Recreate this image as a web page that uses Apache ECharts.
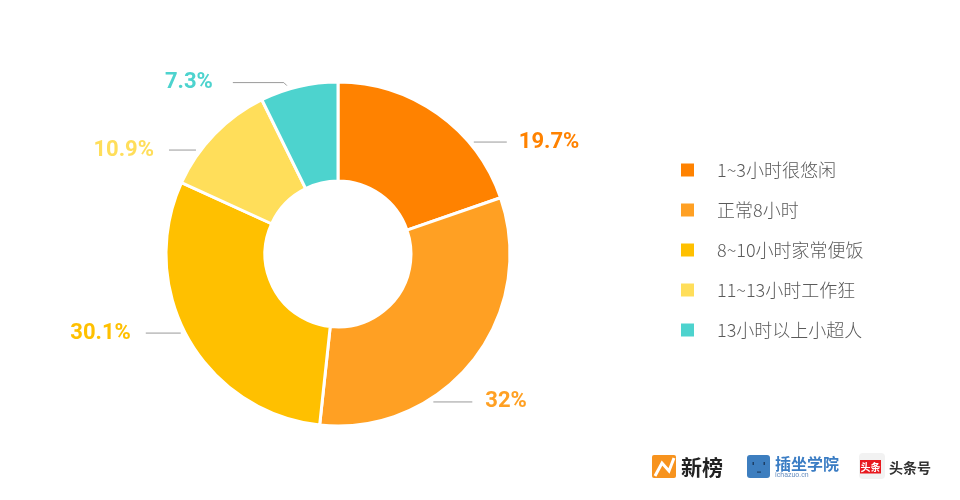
<!DOCTYPE html>
<html><head><meta charset="utf-8">
<script src="https://cdn.jsdelivr.net/npm/echarts@6/dist/echarts.min.js"></script>
<style>html,body{margin:0;padding:0;background:#fff}#c{width:960px;height:500px}</style>
</head><body><div id="c"></div>
<script>
// ---- data ----
const categories = ['1~3小时很悠闲', '正常8小时', '8~10小时家常便饭', '11~13小时工作狂', '13小时以上小超人'];
const values = [19.7, 32, 30.1, 10.9, 7.3];
const colors = ['#FF8200', '#FFA023', '#FFC000', '#FFDE5A', '#4DD3CE'];

// ---- label styling (angles clockwise from 12 o'clock, in degrees) ----
const CX = 338, CY = 254, R_IN = 73, R_OUT = 172;
const anchorDeg = [50.5, 147.2, 243.3, 306.2, 343.1];
const lineLen = [33, 39, 35, 27, 51];
const textGap = [12, 13, 15, 15, 20];
const kink = [0, 0, 0, 0, 3];

const chart = echarts.init(document.getElementById('c'), null, {renderer: 'canvas'});
const labelFont = '"Liberation Sans Narrow", "Roboto", sans-serif';

const seriesData = categories.map((name, i) => ({
  name: name,
  value: values[i],
  itemStyle: {color: colors[i]},
  label: {color: colors[i]}
}));

chart.setOption({
  animation: false,
  backgroundColor: '#ffffff',
  color: colors,
  legend: {
    orient: 'vertical',
    left: 679,
    top: 161,
    padding: 0,
    itemWidth: 15,
    itemHeight: 15,
    itemGap: 22,
    icon: 'rect',
    selectedMode: false,
    data: categories,
    textStyle: {
      fontSize: 18,
      color: '#5a5a5a',
      fontFamily: '"Noto Sans CJK SC", "Noto Sans", sans-serif',
      fontWeight: 300,
      padding: [0, 0, 0, 17]
    }
  },
  series: [{
    type: 'pie',
    center: [CX, CY],
    radius: [R_IN, R_OUT],
    startAngle: 90,
    clockwise: true,
    avoidLabelOverlap: false,
    itemStyle: {borderColor: '#ffffff', borderWidth: 3},
    emphasis: {disabled: true},
    label: {
      show: true,
      position: 'outside',
      formatter: '{c}%',
      fontSize: 22,
      fontWeight: 'bold',
      fontFamily: labelFont
    },
    labelLine: {
      show: true,
      length: 0,
      length2: 20,
      smooth: false,
      lineStyle: {color: '#9a9a9a', width: 1}
    },
    labelLayout: function (p) {
      const i = p.dataIndex;
      const a = anchorDeg[i] * Math.PI / 180;
      const r = R_OUT + 4;
      const x0 = CX + r * Math.sin(a), y0 = CY - r * Math.cos(a);
      const s = Math.sin(a) >= 0 ? 1 : -1;
      const x1 = x0 + s * kink[i], y1 = y0 - kink[i];
      const x2 = x1 + s * lineLen[i];
      return {
        x: x2 + s * textGap[i],
        y: y1,
        align: s > 0 ? 'left' : 'right',
        verticalAlign: 'middle',
        labelLinePoints: [[x0, y0], [x1, y1], [x2, y1]]
      };
    },
    data: seriesData
  }],
  graphic: [
    // 新榜 logo
    {type: 'rect', shape: {x: 652, y: 455, width: 24, height: 23, r: 2}, style: {fill: '#F7931E'}},
    {type: 'polyline', shape: {points: [[655, 476], [662, 463], [669, 471], [674, 458]]}, style: {stroke: '#ffffff', lineWidth: 3, fill: null}},
    {type: 'text', x: 681, y: 467, style: {text: '新榜', fontSize: 21, fontWeight: 'bold', fill: '#222222', verticalAlign: 'middle', fontFamily: '"Noto Sans CJK SC", sans-serif'}},
    // 插坐学院 logo
    {type: 'rect', shape: {x: 747, y: 455, width: 23, height: 23, r: 3}, style: {fill: '#3D7EBF'}},
    {type: 'rect', shape: {x: 752.5, y: 462, width: 1.5, height: 3}, style: {fill: '#1d3f66'}},
    {type: 'rect', shape: {x: 763.5, y: 462, width: 1.5, height: 3}, style: {fill: '#1d3f66'}},
    {type: 'rect', shape: {x: 757, y: 471.5, width: 4, height: 1.2}, style: {fill: '#1d3f66'}},
    {type: 'text', x: 775, y: 464, style: {text: '插坐学院', fontSize: 16, fontWeight: 'bold', fill: '#3B7DC4', verticalAlign: 'middle', fontFamily: '"Noto Sans CJK SC", sans-serif'}},
    {type: 'text', x: 775, y: 475, style: {text: 'ichazuo.cn', fontSize: 7, fill: '#6a90c0', verticalAlign: 'middle', fontFamily: 'Roboto, sans-serif'}},
    // 头条号 logo
    {type: 'rect', shape: {x: 859, y: 453, width: 26, height: 26, r: 4}, style: {fill: '#f2f2f2'}},
    {type: 'rect', shape: {x: 860, y: 460, width: 21, height: 13.5}, style: {fill: '#E8191E'}},
    {type: 'text', x: 870.5, y: 467, style: {text: '头条', fontSize: 10, fontWeight: 'bold', fill: '#ffffff', align: 'center', verticalAlign: 'middle', fontFamily: '"Noto Sans CJK SC", sans-serif'}},
    {type: 'text', x: 889, y: 468, style: {text: '头条号', fontSize: 14, fontWeight: 'bold', fill: '#333333', verticalAlign: 'middle', fontFamily: '"Noto Sans CJK SC", sans-serif'}}
  ]
});
</script>
</body></html>
